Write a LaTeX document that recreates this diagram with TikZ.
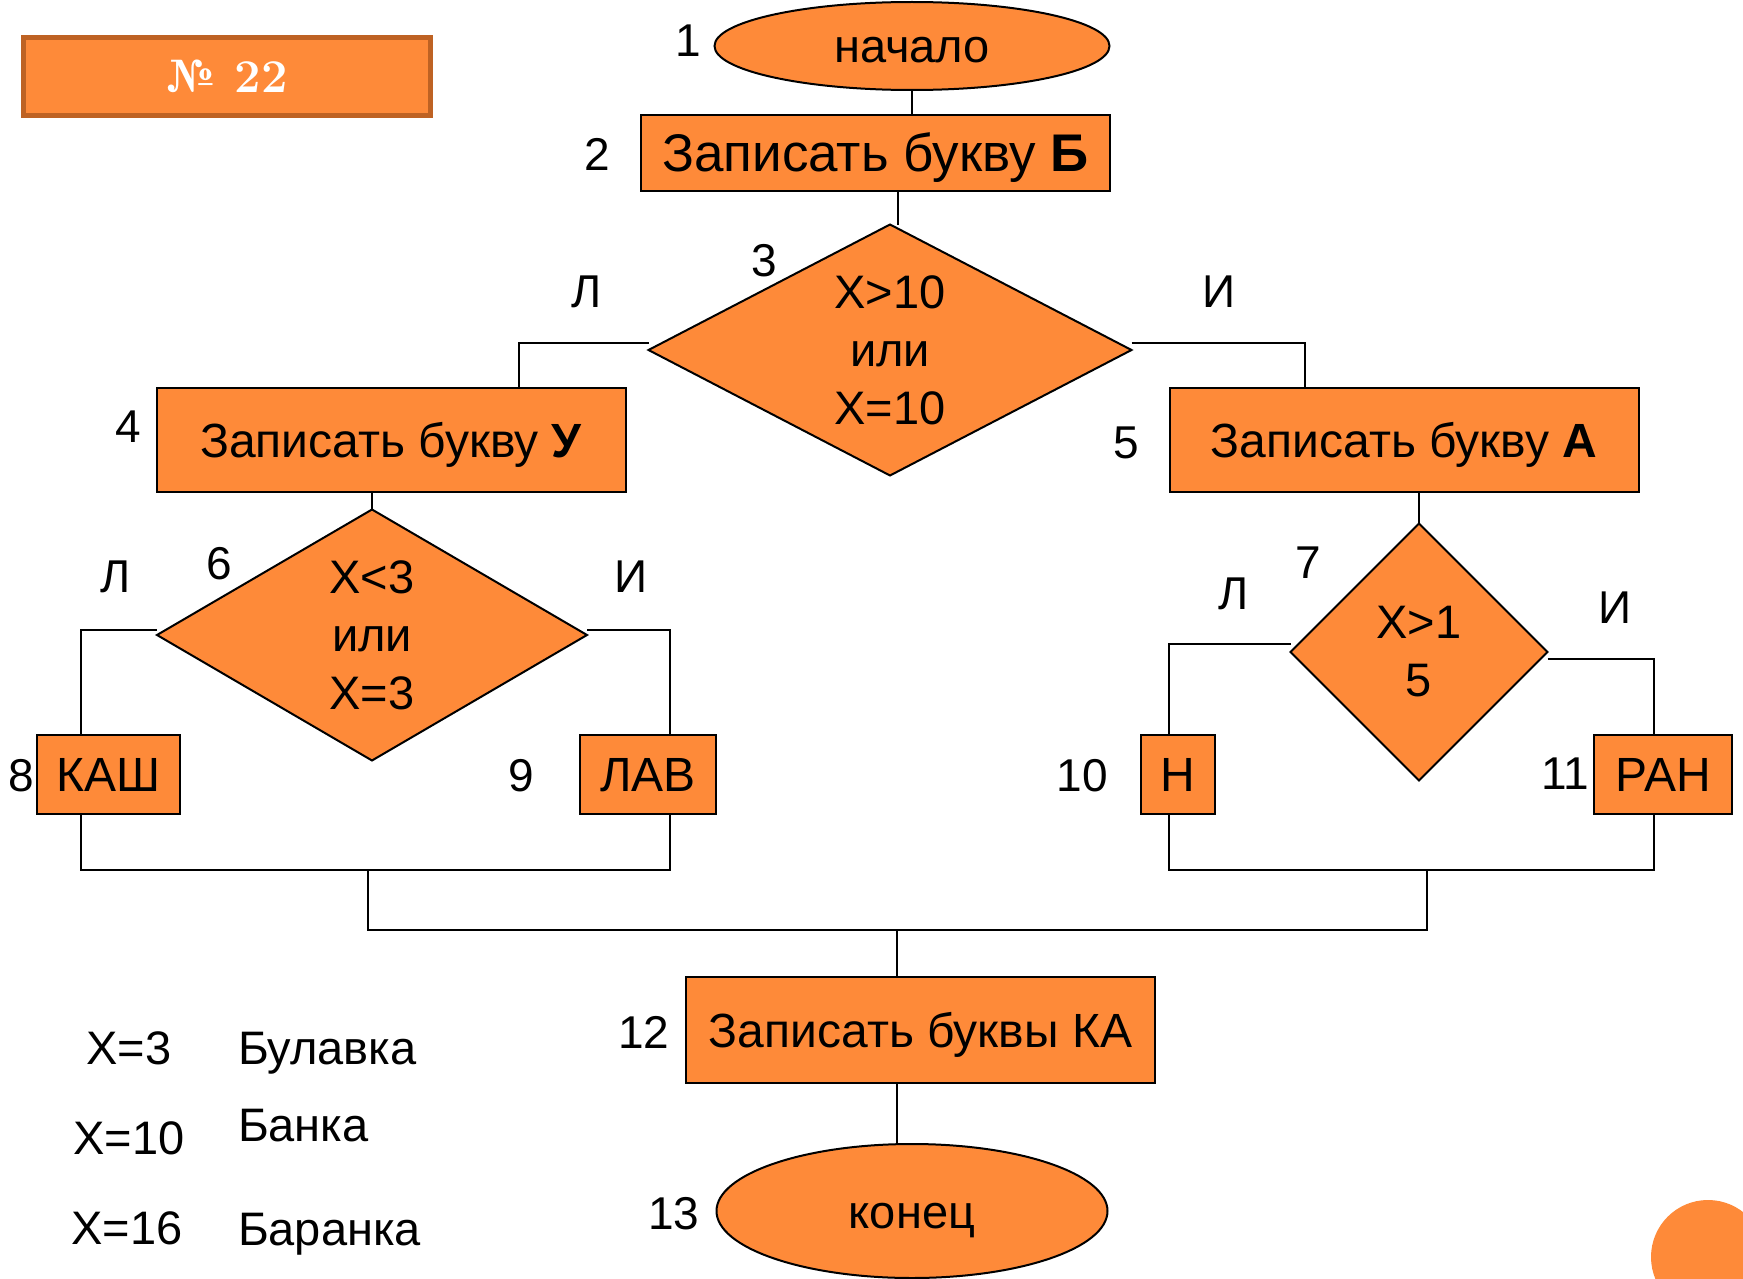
\documentclass[tikz,border=0pt]{standalone}
\usepackage{fontspec}
\newfontfamily\arialf{Liberation Sans}
\usetikzlibrary{shapes.geometric}
\definecolor{org}{RGB}{254,138,57}
\definecolor{orgdark}{RGB}{190,98,35}
\begin{document}
\begin{tikzpicture}[x=1pt,y=-1pt,
  every node/.style={inner sep=0pt, outer sep=0pt},
  shapeline/.style={draw=black, line width=2pt, fill=org},
  boxnode/.style={shapeline, rectangle, font=\arialf\fontsize{48}{58}\selectfont, text height=34pt, text depth=0pt},
  termnode/.style={shapeline, ellipse, font=\arialf\fontsize{47}{58}\selectfont, text height=34pt, text depth=0pt},
  dianode/.style={shapeline, diamond, align=center, font=\arialf\fontsize{47}{58}\selectfont},
  lbl/.style={font=\arialf\fontsize{46}{55}\selectfont, text height=33pt, text depth=0pt},
  legend/.style={font=\arialf\fontsize{47}{55}\selectfont, text height=34pt, text depth=0pt},
  conn/.style={draw=black, line width=2pt}
]
\useasboundingbox (0,0) rectangle (1743,1279);
\clip (0,0) rectangle (1743,1279);
\fill[white] (0,0) rectangle (1743,1279);

% title box
\node[draw=orgdark, line width=5pt, fill=org, minimum width=407pt, minimum height=78pt,
      text=white, font=\rmfamily\bfseries\fontsize{47}{55}\selectfont] (title) at (227,76.5) {№ 22};

% shapes
\node[termnode, minimum width=395pt, minimum height=88pt] (e1) at (912,46) {начало};
\node[boxnode, minimum width=469pt, minimum height=76pt, font=\arialf\fontsize{53}{60}\selectfont, text height=37pt] (b2) at (875.5,153) {Записать букву \textbf{Б}};
\node[dianode, minimum width=483pt, minimum height=251pt, aspect=1.92] (d3) at (890,350) {X>10\\или\\X=10};
\node[boxnode, minimum width=469pt, minimum height=104.5pt] (b4) at (391.2,440.2) {Записать букву \textbf{У}};
\node[boxnode, minimum width=469pt, minimum height=104.5pt] (b5) at (1404,440.2) {Записать букву \textbf{А}};
\node[dianode, minimum width=430pt, minimum height=251pt, aspect=1.71] (d6) at (372,635) {X<3\\или\\X=3};
\node[dianode, minimum width=257pt, minimum height=257pt, aspect=1] (d7) at (1419,652) {X>1\\5};
\node[boxnode, minimum width=143.3pt, minimum height=78.7pt] (b8) at (108.4,774.4) {КАШ};
\node[boxnode, minimum width=136pt, minimum height=78.7pt] (b9) at (648,774.4) {ЛАВ};
\node[boxnode, minimum width=74.5pt, minimum height=78.7pt] (b10) at (1177.8,774.4) {Н};
\node[boxnode, minimum width=138pt, minimum height=78.7pt] (b11) at (1663,774.4) {РАН};
\node[boxnode, minimum width=469pt, minimum height=106pt] (b12) at (920.5,1030) {Записать буквы КА};
\node[termnode, minimum width=391pt, minimum height=134pt] (e13) at (912,1211) {конец};

% helper coordinates for connector bends
\coordinate (c3l) at (519,0);
\coordinate (c3r) at (1305,0);
\coordinate (c6l) at (81,0);
\coordinate (c6r) at (670,0);
\coordinate (c7l) at (1169,0);
\coordinate (c7r) at (1654,0);
\coordinate (c2) at (898,0);
\coordinate (jl) at (368,870);
\coordinate (jr) at (1427,870);
\coordinate (jc) at (897,930);

% connectors
\draw[conn] (e1.south) -- (e1.south |- b2.north);
\draw[conn] (c2 |- b2.south) -- (c2 |- d3.north);
\draw[conn] ([yshift=7pt]d3.west) -| (b4.north -| c3l);
\draw[conn] ([yshift=7pt]d3.east) -| (b5.north -| c3r);
\draw[conn] (d6.north |- b4.south) -- (d6.north);
\draw[conn] ([yshift=5pt]d6.west) -| (b8.north -| c6l);
\draw[conn] ([yshift=5pt]d6.east) -| (b9.north -| c6r);
\draw[conn] (d7.north |- b5.south) -- (d7.north);
\draw[conn] ([yshift=8pt]d7.west) -| (b10.north -| c7l);
\draw[conn] ([yshift=-7pt]d7.east) -| (b11.north -| c7r);
\draw[conn] (b8.south -| c6l) |- (jl) -| (b9.south -| c6r);
\draw[conn] (b10.south -| c7l) |- (jr) -| (b11.south -| c7r);
\draw[conn] (jl) |- (jr |- jc) -- (jr);
\draw[conn] (jc) -- (b12.north -| jc);
\draw[conn] (b12.south -| jc) -- (e13.north -| jc);

% number and branch labels
\node[lbl] (n1) at (688,40) {1};
\node[lbl] (n2) at (597,154) {2};
\node[lbl] (n3) at (764,260) {3};
\node[lbl] (l3) at (587,291) {Л};
\node[lbl] (i3) at (1219,291) {И};
\node[lbl] (n4) at (128,426) {4};
\node[lbl] (n5) at (1126,442) {5};
\node[lbl] (n6) at (219,562.5) {6};
\node[lbl] (l6) at (115.6,576) {Л};
\node[lbl] (i6) at (631,576) {И};
\node[lbl] (n7) at (1308,562) {7};
\node[lbl] (l7) at (1234,592.5) {Л};
\node[lbl] (i7) at (1615,607) {И};
\node[lbl] (n8) at (21,775) {8};
\node[lbl] (n9) at (521,775) {9};
\node[lbl] (n10) at (1082,775) {10};
\node[lbl] (n11) at (1565,773) {11};
\node[lbl] (n12) at (643.6,1031.6) {12};
\node[lbl] (n13) at (673.6,1212.8) {13};

% legend
\node[legend] (x3) at (129,1047) {X=3};
\node[legend] (x10) at (129,1137) {X=10};
\node[legend] (x16) at (127,1227) {X=16};
\node[legend, anchor=west] (w3) at (238,1047) {Булавка};
\node[legend, anchor=west] (w10) at (238,1124) {Банка};
\node[legend, anchor=west] (w16) at (238,1228) {Баранка};

% decorative circle
\fill[org] (1708,1257) circle (57);
\end{tikzpicture}
\end{document}
